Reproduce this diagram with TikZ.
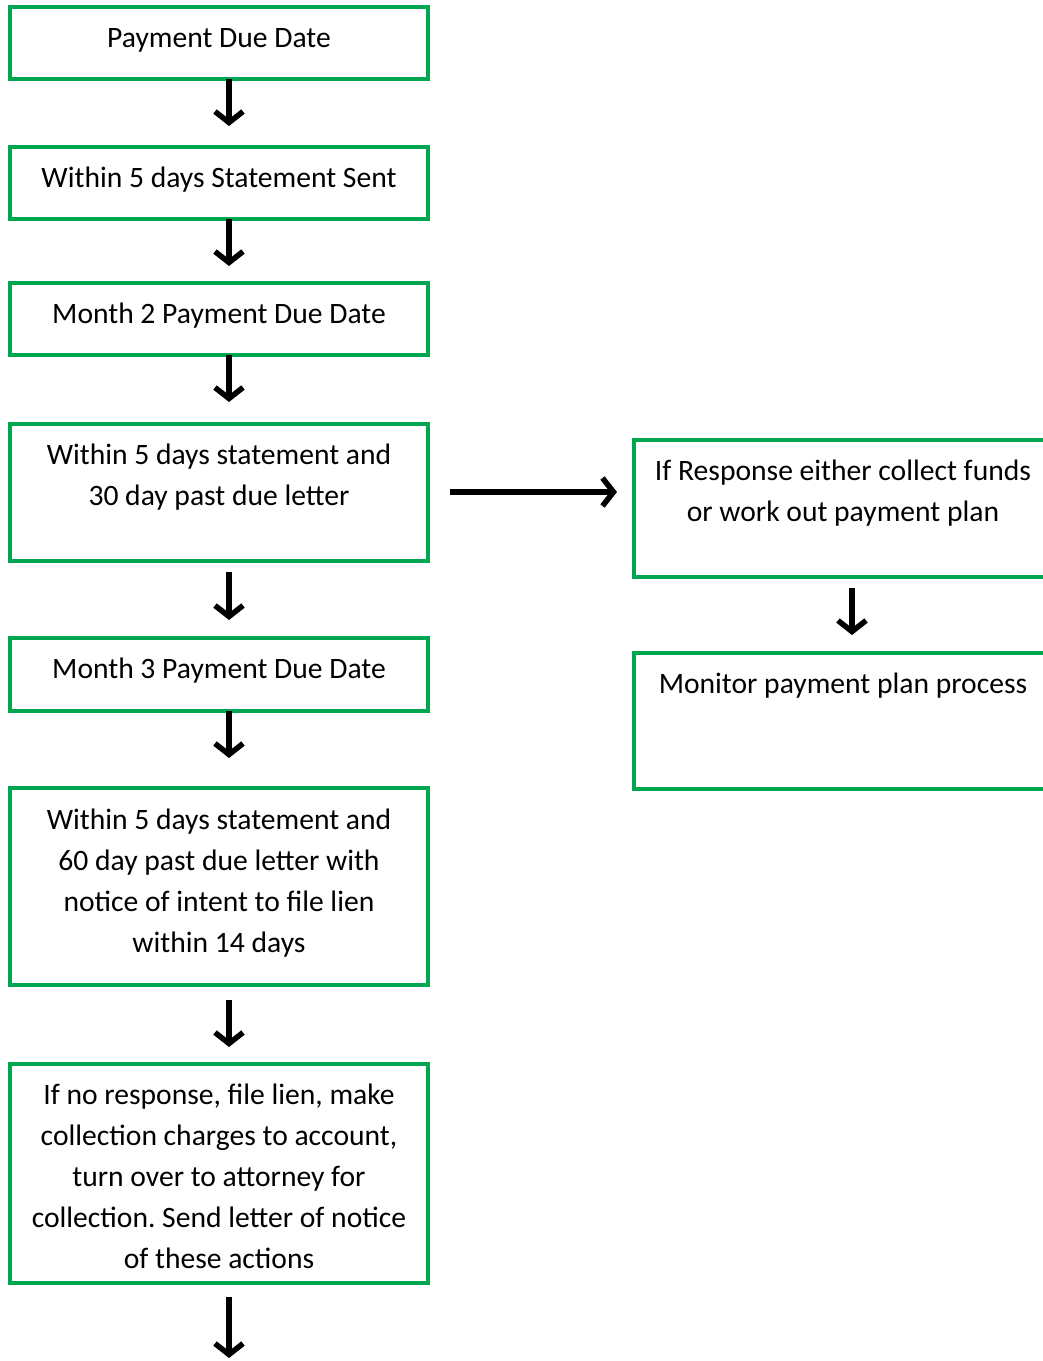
\documentclass[tikz,border=0pt]{standalone}
\usepackage{fontspec}
\setmainfont{Carlito}
\usetikzlibrary{arrows.meta,calc}
\definecolor{boxgreen}{RGB}{0,166,80}
\tikzset{
  box/.style={draw=boxgreen, line width=4pt, rectangle, minimum width=418pt, inner sep=0pt},
  txt/.style={anchor=base, inner sep=0pt},
  arr/.style={line width=5.5pt, -{Straight Barb[length=11pt,width=28pt]}}
}
\newcommand{\tb}[1]{\parbox[t]{416pt}{\centering\frenchspacing\fontsize{29.6}{41}\selectfont #1}}
\begin{document}
\begin{tikzpicture}[x=1pt,y=-1pt]
\path[use as bounding box] (0,0) rectangle (1043,1361);
\clip (0,0) rectangle (1043,1361);
% boxes
\node[box, minimum height=72pt] (b1) at (219,43) {};
\node[box, minimum height=72pt] (b2) at (219,183) {};
\node[box, minimum height=72pt] (b3) at (219,319) {};
\node[box, minimum height=137pt] (b4) at (219,492.5) {};
\node[box, minimum height=73pt] (b5) at (219,674.5) {};
\node[box, minimum height=197pt] (b6) at (219,886.5) {};
\node[box, minimum height=219pt] (b7) at (219,1173.5) {};
\node[box, minimum height=137pt] (r1) at (843,508.5) {};
\node[box, minimum height=136pt] (r2) at (843,721) {};
% texts
\node[txt] (t1) at ($(b1.north)+(0,42)$) {\tb{Payment Due Date}};
\node[txt] (t2) at ($(b2.north)+(0,42)$) {\tb{Within 5 days Statement Sent}};
\node[txt] (t3) at ($(b3.north)+(0,42)$) {\tb{Month 2 Payment Due Date}};
\node[txt] (t4) at ($(b4.north)+(0,42)$) {\tb{Within 5 days statement and\\30 day past due letter}};
\node[txt] (t5) at ($(b5.north)+(0,42)$) {\tb{Month 3 Payment Due Date}};
\node[txt] (t6) at ($(b6.north)+(0,43)$) {\tb{Within 5 days statement and\\60 day past due letter with\\notice of intent to file lien\\within 14 days}};
\node[txt] (t7) at ($(b7.north)+(0,42)$) {\tb{If no response, file lien, make\\collection charges to account,\\turn over to attorney for\\collection.  Send letter of notice\\of these actions}};
\node[txt] (tr1) at ($(r1.north)+(0,42)$) {\tb{If Response either collect funds\\or work out payment plan}};
\node[txt] (tr2) at ($(r2.north)+(0,42)$) {\tb{Monitor payment plan process}};
% arrow end points
\coordinate (a1s) at (229,79);   \coordinate (a1e) at (229,126);
\coordinate (a2s) at (229,219);  \coordinate (a2e) at (229,266);
\coordinate (a3s) at (229,355);  \coordinate (a3e) at (229,402);
\coordinate (a4s) at (229,572);  \coordinate (a4e) at (229,620);
\coordinate (a5s) at (229,711);  \coordinate (a5e) at (229,758);
\coordinate (a6s) at (229,1000); \coordinate (a6e) at (229,1047);
\coordinate (a7s) at (229,1297); \coordinate (a7e) at (229,1358);
\coordinate (hs) at (450,492);   \coordinate (he) at (617,492);
\coordinate (rs) at (852,588);   \coordinate (re) at (852,635);
\foreach \s/\e in {a1s/a1e,a2s/a2e,a3s/a3e,a4s/a4e,a5s/a5e,a6s/a6e,a7s/a7e,hs/he,rs/re}
  \draw[arr] (\s) -- (\e);
\end{tikzpicture}
\end{document}
